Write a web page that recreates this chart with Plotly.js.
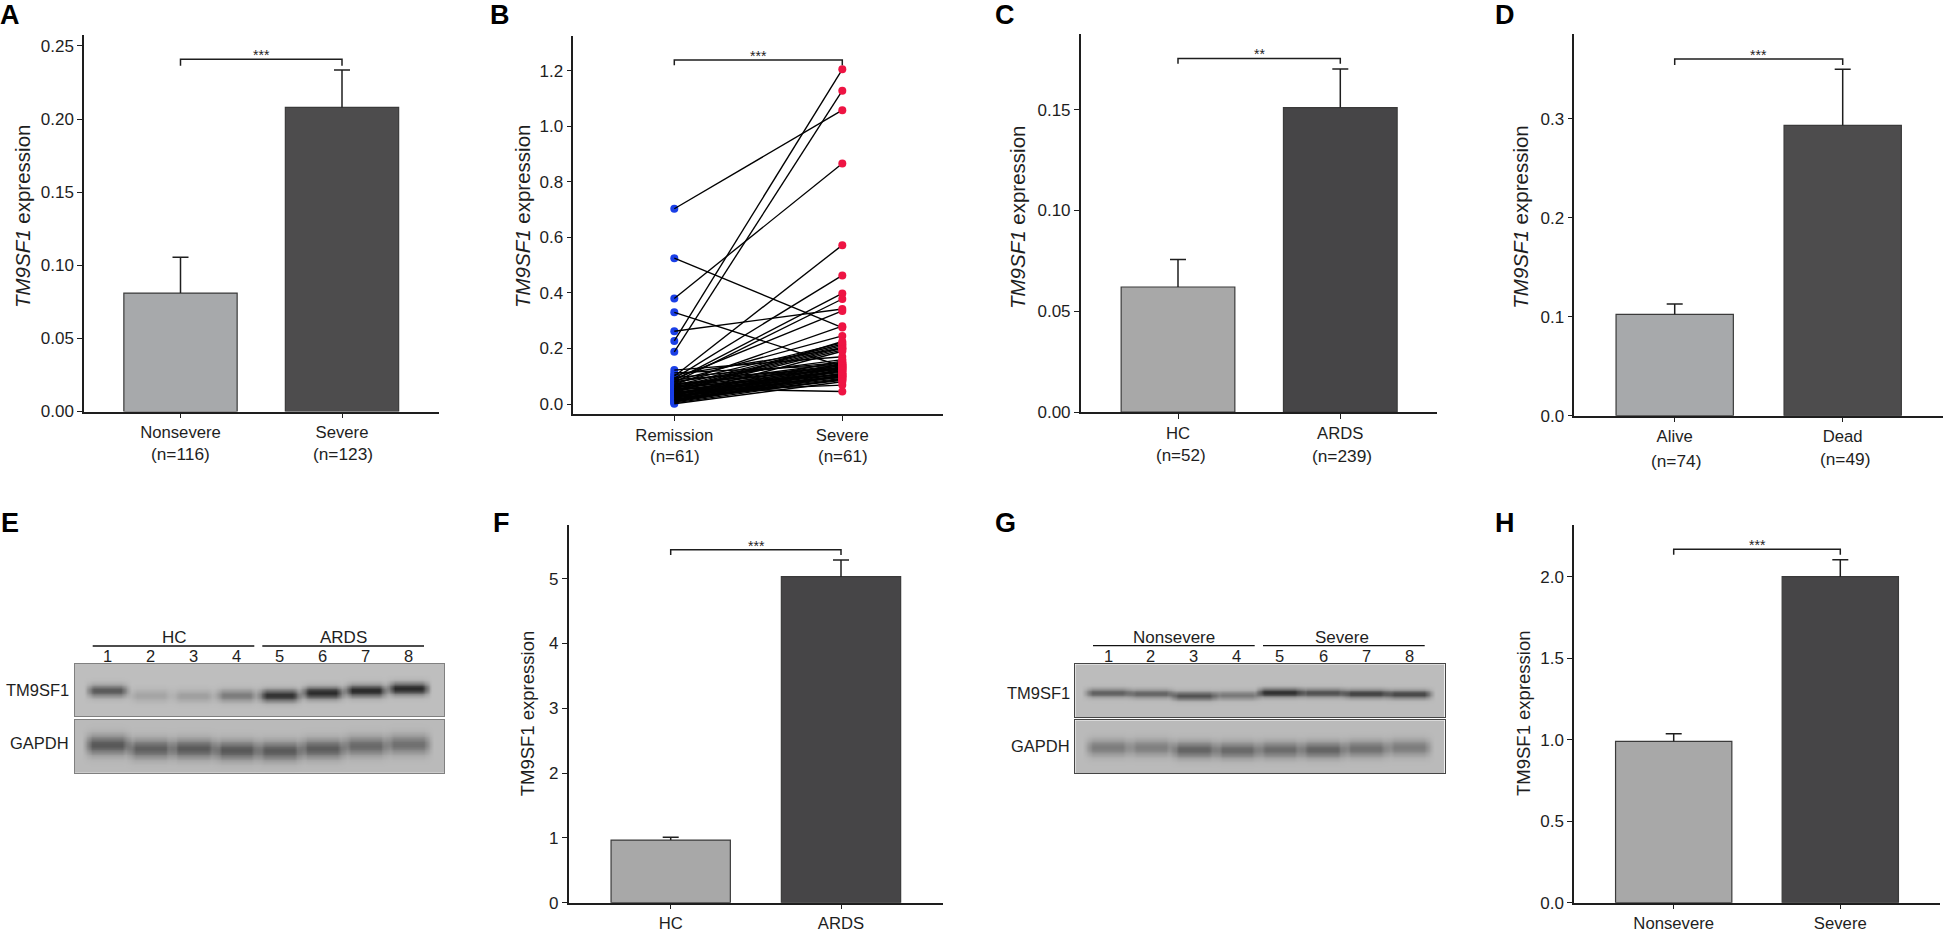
<!DOCTYPE html>
<html>
<head>
<meta charset="utf-8">
<script src="https://cdn.plot.ly/plotly-3.0.1.min.js"></script>
<style>
body { margin: 0; background: #fff; }
#chart { width: 1949px; height: 934px; }
</style>
</head>
<body>
<div id="chart"></div>
<script>
// Bar panels
var groupsA = ["Nonsevere", "Severe"];
var meansA = [0.081, 0.208];
var errA = [0.0245, 0.0256];
var nA = ["(n=116)", "(n=123)"];
var ticksA = [0, 0.05, 0.10, 0.15, 0.20, 0.25];

var groupsC = ["HC", "ARDS"];
var meansC = [0.062, 0.151];
var errC = [0.0137, 0.0192];
var nC = ["(n=52)", "(n=239)"];
var ticksC = [0, 0.05, 0.10, 0.15];

var groupsD = ["Alive", "Dead"];
var meansD = [0.1024, 0.2933];
var errD = [0.0104, 0.0566];
var nD = ["(n=74)", "(n=49)"];
var ticksD = [0, 0.1, 0.2, 0.3];

var groupsF = ["HC", "ARDS"];
var meansF = [0.967, 5.031];
var errF = [0.042, 0.258];
var ticksF = [0, 1, 2, 3, 4, 5];

var groupsH = ["Nonsevere", "Severe"];
var meansH = [0.99, 2.0];
var errH = [0.047, 0.104];
var ticksH = [0, 0.5, 1.0, 1.5, 2.0];

// Paired panel B, one entry per patient
var groupsB = ["Remission", "Severe"];
var nB = ["(n=61)", "(n=61)"];
var ticksB = [0, 0.2, 0.4, 0.6, 0.8, 1.0, 1.2];
var remission = [0.703,0.525,0.38,0.33,0.262,0.227,0.188,
  0.122,0.112,0.105,0.1,0.095,0.092,0.09,0.088,0.085,0.082,
  0.08,0.078,0.075,0.073,0.07,0.068,0.066,0.064,0.062,0.06,
  0.058,0.056,0.055,0.053,0.052,0.05,0.048,0.047,0.045,0.044,
  0.042,0.04,0.039,0.037,0.036,0.034,0.033,0.031,0.03,0.028,
  0.026,0.025,0.023,0.021,0.02,0.018,0.016,0.015,0.013,0.011,
  0.009,0.007,0.004,0.001];
var severe = [1.058,0.275,0.866,0.135,0.342,1.205,1.128,
  0.17,0.14,0.2,0.572,0.15,0.463,0.335,0.13,0.398,0.245,
  0.16,0.378,0.22,0.125,0.28,0.148,0.215,0.142,0.105,0.21,
  0.138,0.045,0.205,0.132,0.095,0.2,0.128,0.12,0.195,0.068,
  0.118,0.225,0.115,0.11,0.155,0.108,0.145,0.102,0.19,0.1,
  0.14,0.098,0.135,0.092,0.13,0.088,0.125,0.085,0.12,0.11,
  0.105,0.1,0.09,0.08];

// Western blots: band grey level and band height (fraction of strip) per lane
var laneNumbers = ["1", "2", "3", "4", "5", "6", "7", "8"];
var blotGroupsE = ["HC", "ARDS"];
var blotGroupsG = ["Nonsevere", "Severe"];
var blotRows = ["TM9SF1", "GAPDH"];
var tmGreyE = [90, 165, 160, 125, 50, 42, 42, 40];
var tmRowE = [0.51, 0.60, 0.61, 0.60, 0.60, 0.55, 0.51, 0.47];
var gapdhGreyE = [88, 95, 90, 88, 90, 92, 105, 112];
var gapdhRowE = [0.47, 0.54, 0.54, 0.57, 0.58, 0.54, 0.49, 0.46];
var tmGreyG = [95, 100, 80, 120, 45, 80, 65, 70];
var tmRowG = [0.535, 0.55, 0.59, 0.58, 0.53, 0.535, 0.55, 0.56];
var gapdhGreyG = [125, 128, 100, 105, 108, 100, 112, 125];
var gapdhRowG = [0.51, 0.51, 0.55, 0.56, 0.55, 0.55, 0.53, 0.51];

var W = 1949, H = 934;
var FONT = "Liberation Sans, Arial, sans-serif";
var INK = "#1e1e1e";
var LIGHT_A = "#a7a9ab", DARK_A = "#4d4c4d";
var LIGHT_C = "#a8a8a8", DARK_C = "#464547";

function px(x) { return x / W; }
function py(y) { return 1 - y / H; }

var traces = [];
var annotations = [];
var shapes = [];
var layout = {
  width: W, height: H,
  margin: { l: 0, r: 0, t: 0, b: 0 },
  paper_bgcolor: "#fff", plot_bgcolor: "rgba(0,0,0,0)",
  showlegend: false,
  font: { family: FONT, color: INK }
};

function addText(text, x, y, size, opts) {
  opts = opts || {};
  annotations.push({
    text: text, xref: "paper", yref: "paper", x: px(x), y: py(y),
    xanchor: opts.anchor || "center", yanchor: "middle", showarrow: false,
    textangle: opts.angle || 0,
    font: { family: FONT, size: size, color: opts.color || INK }
  });
}

// left/right/top/bottom are the axis lines, c0/c1 the pixel centres of the two groups
function addAxes(i, p, groups, ticks, tickformat) {
  var dist = p.c1 - p.c0;
  layout["xaxis" + i] = {
    domain: [px(p.left), px(p.right)],
    range: [(p.left - p.c0) / dist, (p.right - p.c0) / dist],
    anchor: "y" + i, showgrid: false, zeroline: false, showline: true,
    linecolor: INK, linewidth: 1.5, ticks: "outside", ticklen: 5, tickwidth: 1.3,
    tickcolor: INK, tickvals: [0, 1], ticktext: groups,
    tickfont: { family: FONT, size: 16.7, color: INK }
  };
  layout["yaxis" + i] = {
    domain: [py(p.bottom), py(p.top)],
    range: [p.ymin, p.ymax],
    anchor: "x" + i, showgrid: false, zeroline: false, showline: true,
    linecolor: INK, linewidth: 1.5, ticks: "outside", ticklen: 5, tickwidth: 1.3,
    tickcolor: INK, tickvals: ticks, tickformat: tickformat,
    tickfont: { family: FONT, size: 17, color: INK }
  };
  traces.push({
    type: "scatter", mode: "lines", xaxis: "x" + i, yaxis: "y" + i,
    x: [0, 0, 1, 1], y: [p.dropL, p.bracket, p.bracket, p.dropR],
    line: { color: INK, width: 1.5 }, hoverinfo: "skip"
  });
  addText(p.stars, p.starX, p.starY, 14);
  addText(p.title, p.titleX, p.titleY, p.titleSize, { angle: -90 });
  addText(p.letter, p.letterX, p.letterY, 27, { color: "#000" });
}

function addBars(i, p, groups, means, errs, ticks, fmt, light, dark) {
  traces.push({
    type: "bar", xaxis: "x" + i, yaxis: "y" + i, x: [0, 1], y: means,
    width: p.barPx / (p.c1 - p.c0),
    marker: { color: [light, dark], line: { color: "#3a3a3a", width: 1.2 } },
    hoverinfo: "skip"
  });
  // upper error bars only: the stem starts at the bar top, with no lower cap
  var cap = 8 / (p.c1 - p.c0), ex = [], ey = [];
  for (var b = 0; b < means.length; b++) {
    var top = means[b] + errs[b];
    ex.push(b, b, null, b - cap, b + cap, null);
    ey.push(means[b], top, null, top, top, null);
  }
  traces.push({
    type: "scatter", mode: "lines", xaxis: "x" + i, yaxis: "y" + i, x: ex, y: ey,
    line: { color: INK, width: 1.5 }, hoverinfo: "skip"
  });
  addAxes(i, p, groups, ticks, fmt);
}

var TM = "<i>TM9SF1</i> expression";
var panelA = { letter: "<b>A</b>", letterX: 10, letterY: 15, left: 84, right: 439, top: 35, bottom: 411.5,
  c0: 180.5, c1: 342, barPx: 113.3, ymin: 0, ymax: 0.2575, bracket: 0.2409, dropL: 0.2365, dropR: 0.2365,
  stars: "***", starX: 261, starY: 55, title: TM, titleX: 23, titleY: 217, titleSize: 20.5 };
var panelB = { letter: "<b>B</b>", letterX: 500, letterY: 15, left: 573.3, right: 943, top: 36, bottom: 414.3,
  c0: 674.3, c1: 842.3, ymin: -0.0371, ymax: 1.325, bracket: 1.2385, dropL: 1.22, dropR: 1.22,
  stars: "***", starX: 758, starY: 56, title: TM, titleX: 523, titleY: 217, titleSize: 20.5 };
var panelC = { letter: "<b>C</b>", letterX: 1005, letterY: 15, left: 1080.7, right: 1437.3, top: 34, bottom: 412,
  c0: 1178, c1: 1340.3, barPx: 113.7, ymin: 0, ymax: 0.1875, bracket: 0.1753, dropL: 0.1727, dropR: 0.1727,
  stars: "**", starX: 1259, starY: 54, title: TM, titleX: 1018, titleY: 217, titleSize: 20.5 };
var panelD = { letter: "<b>D</b>", letterX: 1505, letterY: 15, left: 1574.3, right: 1943.3, top: 34.3, bottom: 415.7,
  c0: 1674.7, c1: 1842.7, barPx: 117.3, ymin: 0, ymax: 0.3853, bracket: 0.3603, dropL: 0.3542, dropR: 0.3542,
  stars: "***", starX: 1758.7, starY: 55, title: TM, titleX: 1520.7, titleY: 217, titleSize: 20.5 };
var panelF = { letter: "<b>F</b>", letterX: 501, letterY: 523, left: 568.7, right: 943.3, top: 525, bottom: 902.7,
  c0: 670.7, c1: 841, barPx: 119.3, ymin: 0, ymax: 5.829, bracket: 5.448, dropL: 5.366, dropR: 5.366,
  stars: "***", starX: 756, starY: 546, title: "TM9SF1 expression", titleX: 527.3, titleY: 713, titleSize: 18.5 };
var panelH = { letter: "<b>H</b>", letterX: 1505, letterY: 523, left: 1574, right: 1939.7, top: 525, bottom: 902.7,
  c0: 1673.7, c1: 1840.3, barPx: 116.3, ymin: 0, ymax: 2.317, bracket: 2.168, dropL: 2.135, dropR: 2.135,
  stars: "***", starX: 1757, starY: 545, title: "TM9SF1 expression", titleX: 1523, titleY: 713, titleSize: 18.5 };

addBars(1, panelA, groupsA, meansA, errA, ticksA, ".2f", LIGHT_A, DARK_A);
addBars(3, panelC, groupsC, meansC, errC, ticksC, ".2f", LIGHT_C, DARK_C);
addBars(4, panelD, groupsD, meansD, errD, ticksD, ".1f", LIGHT_A, DARK_A);
addBars(5, panelF, groupsF, meansF, errF, ticksF, "d", LIGHT_C, DARK_C);
addBars(6, panelH, groupsH, meansH, errH, ticksH, ".1f", LIGHT_C, DARK_C);

// Panel B: blue dots under the lines, red dots over them
var lineX = [], lineY = [];
for (var k = 0; k < remission.length; k++) {
  lineX.push(0, 1, null);
  lineY.push(remission[k], severe[k], null);
}
traces.push({ type: "scatter", mode: "markers", xaxis: "x2", yaxis: "y2",
  x: remission.map(function () { return 0; }), y: remission,
  marker: { color: "#1a3fe6", size: 8 }, cliponaxis: false, hoverinfo: "skip" });
traces.push({ type: "scatter", mode: "lines", xaxis: "x2", yaxis: "y2", x: lineX, y: lineY,
  line: { color: "#000", width: 1.35 }, hoverinfo: "skip" });
traces.push({ type: "scatter", mode: "markers", xaxis: "x2", yaxis: "y2",
  x: severe.map(function () { return 1; }), y: severe,
  marker: { color: "#ee1443", size: 8 }, cliponaxis: false, hoverinfo: "skip" });
addAxes(2, panelB, groupsB, ticksB, ".1f");

// second line of the group labels
addText(nA[0], 180, 454, 17.3); addText(nA[1], 342.7, 454, 17.3);
addText(nB[0], 675, 456, 17); addText(nB[1], 843, 456.7, 17);
addText(nC[0], 1180.7, 455.7, 17); addText(nC[1], 1342, 455.7, 17.3);
addText(nD[0], 1676, 460.7, 17.3); addText(nD[1], 1844.7, 459.3, 17.3);

// Blot strips are heatmaps of a soft band in each lane
function blotStrip(i, box, greys, rows, bg, sigma, halfWidth, border) {
  var cols = 222, lines = 32, xs = [], ys = [], z = [];
  for (var c = 0; c < cols; c++) xs.push((c + 0.5) / cols);
  for (var r = 0; r < lines; r++) ys.push((r + 0.5) / lines);
  for (r = 0; r < lines; r++) {
    var row = [];
    for (c = 0; c < cols; c++) {
      var value = bg;
      for (var l = 0; l < 8; l++) {
        var d = Math.abs(xs[c] - (0.0885 + l * 0.1163));
        var hat = Math.max(0, Math.min(1, (halfWidth + 0.014 - d) / 0.028));
        var dy = (ys[r] - rows[l]) / sigma;
        value -= (bg - greys[l]) * hat * Math.exp(-dy * dy / 2);
      }
      row.push(value);
    }
    z.push(row);
  }
  traces.push({ type: "heatmap", xaxis: "x" + i, yaxis: "y" + i, x: xs, y: ys, z: z,
    zmin: 0, zmax: 255, zsmooth: "best", showscale: false, hoverinfo: "skip",
    colorscale: [[0, "#000"], [1, "#fff"]] });
  var edge = { showgrid: false, zeroline: false, showticklabels: false, ticks: "",
    showline: true, mirror: true, linecolor: border, linewidth: 1.2 };
  layout["xaxis" + i] = Object.assign({ domain: [px(box.left), px(box.right)], range: [0, 1], anchor: "y" + i }, edge);
  layout["yaxis" + i] = Object.assign({ domain: [py(box.bottom), py(box.top)], range: [1, 0], anchor: "x" + i }, edge);
}

blotStrip(7, { left: 74.7, right: 444.3, top: 663.7, bottom: 716.3 }, tmGreyE, tmRowE, 190, 0.078, 0.05, "#808080");
blotStrip(8, { left: 74.7, right: 444.3, top: 720, bottom: 772.7 }, gapdhGreyE, gapdhRowE, 186, 0.125, 0.054, "#808080");
blotStrip(9, { left: 1075.3, right: 1444.7, top: 664.3, bottom: 717.3 }, tmGreyG, tmRowG, 188, 0.055, 0.056, "#444444");
blotStrip(10, { left: 1075.3, right: 1444.7, top: 720.3, bottom: 773.3 }, gapdhGreyG, gapdhRowG, 186, 0.105, 0.054, "#444444");

function blotLabels(labels, laneX, laneY, groups, groupX, groupY, bars, barY, rowRight, rowY) {
  for (var i = 0; i < 8; i++) addText(labels[i], laneX[i], laneY, 16.5);
  addText(groups[0], groupX[0], groupY, 17);
  addText(groups[1], groupX[1], groupY, 17);
  bars.forEach(function (b) {
    shapes.push({ type: "line", xref: "paper", yref: "paper", x0: px(b[0]), x1: px(b[1]),
      y0: py(barY), y1: py(barY), line: { color: "#111", width: 1.3 } });
  });
  addText(blotRows[0], rowRight, rowY[0], 16.5, { anchor: "right" });
  addText(blotRows[1], rowRight, rowY[1], 16.5, { anchor: "right" });
}
blotLabels(laneNumbers, [107.3, 150.3, 193, 236, 279.3, 322.3, 365.7, 408.7], 655.7,
  blotGroupsE, [174.7, 343.3], 637.3, [[92.7, 254.3], [262.3, 424]], 646, 71, [690.3, 743]);
blotLabels(laneNumbers, [1108, 1150.7, 1193.7, 1236.7, 1279.7, 1323, 1366, 1409.3], 656.3,
  blotGroupsG, [1174.3, 1342.3], 637.7, [[1093, 1254.7], [1263, 1424.7]], 645.7, 1072, [693.3, 746.3]);

addText("<b>E</b>", 10, 523, 27, { color: "#000" });
addText("<b>G</b>", 1005, 523, 27, { color: "#000" });

layout.annotations = annotations;
layout.shapes = shapes;
Plotly.newPlot("chart", traces, layout, { displayModeBar: false, responsive: false });
</script>
</body>
</html>
